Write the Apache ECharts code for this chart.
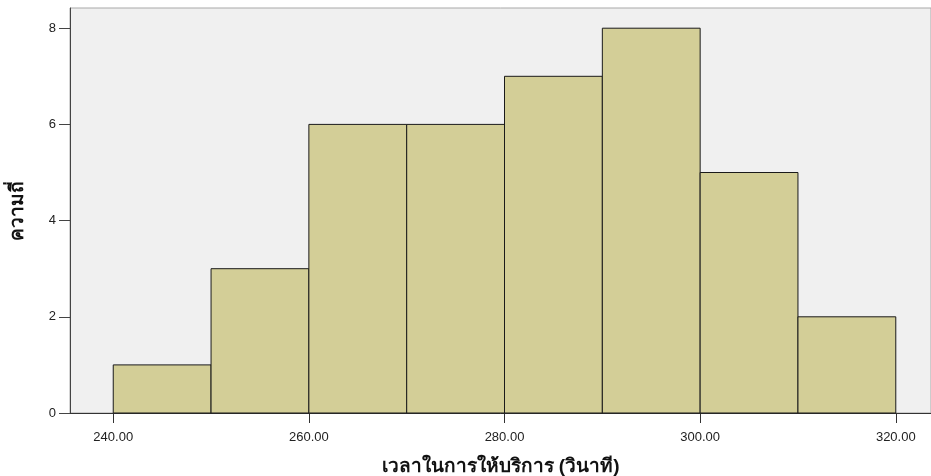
<!DOCTYPE html>
<html><head><meta charset="utf-8">
<script src="https://cdn.jsdelivr.net/npm/echarts@6/dist/echarts.min.js"></script>
<style>html,body{margin:0;padding:0;background:#fff}#c{width:931px;height:476px}</style>
</head><body><div id="c"></div>
<script>
var binStarts = [240, 250, 260, 270, 280, 290, 300, 310];
var binWidth = 10;
var counts = [1, 3, 6, 6, 7, 8, 5, 2];
var xTicks = [240, 260, 280, 300, 320];
var yTicks = [0, 2, 4, 6, 8];
var xTitle = 'เวลาในการให้บริการ (วินาที)';
var yTitle = 'ความถี่';

var data = binStarts.map(function (s, i) { return [s, s + binWidth, counts[i]]; });
var chart = echarts.init(document.getElementById('c'));
chart.setOption({
  animation: false,
  grid: { left: 70, right: 0, top: 8, bottom: 63, outerBoundsMode: 'none', containLabel: false, show: true, backgroundColor: '#f0f0f0', borderColor: '#a8a8a8', borderWidth: 1 },
  xAxis: {
    type: 'value', min: 235.58, max: 323.6, interval: 20,
    name: xTitle, nameLocation: 'middle', nameGap: 44,
    nameTextStyle: { fontSize: 19, fontWeight: 'bold', color: '#111', fontFamily: 'sans-serif' },
    axisLine: { show: true, onZero: false, lineStyle: { color: '#333', width: 1 } },
    axisTick: { show: true, inside: false, length: 10, lineStyle: { color: '#333' }, customValues: xTicks },
    axisLabel: { fontSize: 13, color: '#222', fontFamily: 'Liberation Sans, Arial, sans-serif', margin: 18, customValues: xTicks,
      formatter: function (v) { return v.toFixed(2); } },
    splitLine: { show: false }
  },
  yAxis: {
    type: 'value', min: 0, max: 8.42, interval: 2,
    name: yTitle, nameLocation: 'middle', nameGap: 43,
    nameTextStyle: { fontSize: 19, fontWeight: 'bold', color: '#111', fontFamily: 'sans-serif' },
    axisLine: { show: true, lineStyle: { color: '#444', width: 1 } },
    axisTick: { show: true, inside: false, length: 11, lineStyle: { color: '#444' }, customValues: yTicks },
    axisLabel: { fontSize: 13, color: '#222', fontFamily: 'Liberation Sans, Arial, sans-serif', margin: 14, customValues: yTicks },
    splitLine: { show: false }
  },
  series: [{
    type: 'custom',
    data: data,
    encode: { x: [0, 1], y: 2 },
    renderItem: function (params, api) {
      var p0 = api.coord([api.value(0), api.value(2)]);
      var p1 = api.coord([api.value(1), 0]);
      return {
        type: 'rect',
        shape: { x: p0[0], y: p0[1], width: p1[0] - p0[0], height: p1[1] - p0[1] },
        style: { fill: '#d3ce97', stroke: '#1a1a1a', lineWidth: 1 }
      };
    }
  }]
});
</script></body></html>
